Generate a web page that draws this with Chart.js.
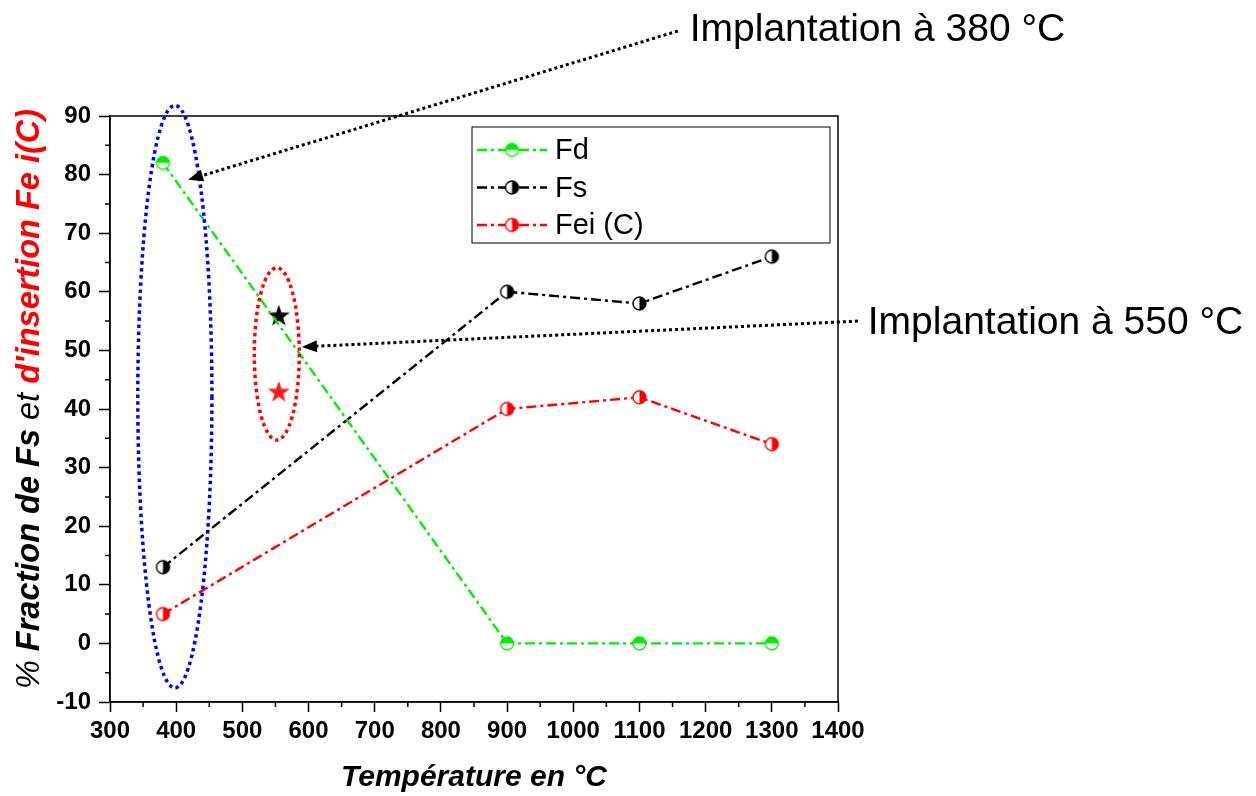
<!DOCTYPE html>
<html>
<head>
<meta charset="utf-8">
<script src="https://cdn.jsdelivr.net/npm/chart.js@4.4.1/dist/chart.umd.min.js"></script>
<style>
  html, body { margin:0; padding:0; background:#fff; }
  #wrap { width:1256px; height:796px; position:relative; }
</style>
</head>
<body>
<div id="wrap"><canvas id="chart"></canvas></div>
<script>
// ── data ────────────────────────────────────────────────────────────────────
const temperatures = [380, 900, 1100, 1300];
const fdValues  = [82, 0, 0, 0];
const fsValues  = [13, 60, 58, 66];
const feiValues = [5, 40, 42, 34];
const starTemp = [555];
const fsStar   = [56];
const feiStar  = [43];

const xTicks = { min:300, max:1400, step:100 };
const yTicks = { min:-10, max:90, step:10 };

const FONT = "'Liberation Sans', Arial, sans-serif";
const DASH = [10, 4, 3, 4];

// half-filled circle markers
function halfCircle(color, half) {
  const c = document.createElement('canvas');
  const r = 6.5, s = 17;
  c.width = s; c.height = s;
  const g = c.getContext('2d');
  const cx = s/2, cy = s/2;
  g.fillStyle = '#fff';
  g.beginPath(); g.arc(cx, cy, r, 0, Math.PI*2); g.fill();
  g.fillStyle = color;
  g.beginPath();
  if (half === 'top') g.arc(cx, cy, r, Math.PI, 0);
  else g.arc(cx, cy, r, -Math.PI/2, Math.PI/2);
  g.closePath(); g.fill();
  g.strokeStyle = color; g.lineWidth = 1.4;
  g.beginPath(); g.arc(cx, cy, r, 0, Math.PI*2); g.stroke();
  return c;
}

function starImg(color) {
  const c = document.createElement('canvas');
  const s = 26; c.width = s; c.height = s;
  const g = c.getContext('2d');
  const R = 11.5, r = 4.6;
  g.fillStyle = color;
  g.beginPath();
  for (let i = 0; i < 10; i++) {
    const a = -Math.PI/2 + i*Math.PI/5;
    const rr = i % 2 ? r : R;
    g.lineTo(s/2 + rr*Math.cos(a), s/2 + 1 + rr*Math.sin(a));
  }
  g.closePath(); g.fill();
  return c;
}

const toXY = (xs, ys) => xs.map((x, i) => ({ x, y: ys[i] }));

const series = [
  { label:'Fd',      color:'#00ee00', data: fdValues,  half:'top'   },
  { label:'Fs',      color:'#000000', data: fsValues,  half:'right' },
  { label:'Fei (C)', color:'#ff0000', data: feiValues, half:'right' },
];

const datasets = series.map(s => ({
  label: s.label,
  data: toXY(temperatures, s.data),
  borderColor: s.color,
  borderWidth: 2.4,
  borderDash: DASH,
  pointStyle: halfCircle(s.color, s.half),
  pointRadius: 7,
  tension: 0,
}));
datasets.push(
  { label:'star Fs',  data: toXY(starTemp, fsStar),  showLine:false, pointStyle: starImg('#000') },
  { label:'star Fei', data: toXY(starTemp, feiStar), showLine:false, pointStyle: starImg('#ff1a1a') }
);

// annotations (data coordinates)
const ellipses = [
  { cx:398, cy:42.1, rx:56, ry:49.7, color:'#0000ff' },
  { cx:552, cy:49.4, rx:34, ry:14.7, color:'#ff0000' },
];
const arrows = [
  { from:[1158, 104.5], to:[418, 79.1] },
  { from:[1430, 55.0],  to:[590, 50.6] },
];
const notes = [
  { text:'Implantation à 380 °C', x:1176, y:104.7 },
  { text:'Implantation à 550 °C', x:1445, y:54.6 },
];

const decor = {
  id: 'decor',
  beforeDatasetsDraw(chart) {
    const { ctx, chartArea: a } = chart;
    ctx.save();
    ctx.strokeStyle = '#000'; ctx.lineWidth = 1.5;
    ctx.strokeRect(a.left, a.top, a.right - a.left, a.bottom - a.top);
    // minor ticks
    const xs = chart.scales.x, ys = chart.scales.y;
    ctx.beginPath();
    for (let v = xTicks.min + xTicks.step/2; v < xTicks.max; v += xTicks.step) {
      const p = xs.getPixelForValue(v);
      ctx.moveTo(p, a.bottom); ctx.lineTo(p, a.bottom + 5);
    }
    for (let v = yTicks.min + yTicks.step/2; v < yTicks.max; v += yTicks.step) {
      const p = ys.getPixelForValue(v);
      ctx.moveTo(a.left, p); ctx.lineTo(a.left - 5, p);
    }
    ctx.stroke();
    ctx.restore();
  },
  afterDraw(chart) {
    const { ctx, chartArea: a } = chart;
    const xs = chart.scales.x, ys = chart.scales.y;
    ctx.save();
    // ellipses
    ctx.lineWidth = 3.5; ctx.setLineDash([3.5, 3.5]);
    ellipses.forEach(e => {
      const cx = xs.getPixelForValue(e.cx), cy = ys.getPixelForValue(e.cy);
      const rx = Math.abs(xs.getPixelForValue(e.cx + e.rx) - cx);
      const ry = Math.abs(ys.getPixelForValue(e.cy + e.ry) - cy);
      ctx.strokeStyle = e.color;
      ctx.beginPath(); ctx.ellipse(cx, cy, rx, ry, 0, 0, Math.PI*2); ctx.stroke();
    });
    // arrows
    arrows.forEach(ar => {
      const x1 = xs.getPixelForValue(ar.from[0]), y1 = ys.getPixelForValue(ar.from[1]);
      const x2 = xs.getPixelForValue(ar.to[0]),   y2 = ys.getPixelForValue(ar.to[1]);
      const ang = Math.atan2(y2 - y1, x2 - x1);
      const L = 15, W = 6;
      const bx = x2 - L*Math.cos(ang), by = y2 - L*Math.sin(ang);
      ctx.strokeStyle = '#000'; ctx.lineWidth = 3; ctx.setLineDash([3, 3]);
      ctx.beginPath(); ctx.moveTo(x1, y1); ctx.lineTo(bx, by); ctx.stroke();
      ctx.setLineDash([]);
      ctx.fillStyle = '#000';
      ctx.beginPath();
      ctx.moveTo(x2, y2);
      ctx.lineTo(bx + W*Math.sin(ang), by - W*Math.cos(ang));
      ctx.lineTo(bx - W*Math.sin(ang), by + W*Math.cos(ang));
      ctx.closePath(); ctx.fill();
    });
    // notes
    ctx.fillStyle = '#000'; ctx.font = `39px ${FONT}`;
    ctx.textAlign = 'left'; ctx.textBaseline = 'middle';
    notes.forEach(n => ctx.fillText(n.text, xs.getPixelForValue(n.x), ys.getPixelForValue(n.y)));

    // legend
    const lx = 472, ly = 127, lw = 358, lh = 116;
    ctx.strokeStyle = '#000'; ctx.lineWidth = 1; ctx.setLineDash([]);
    ctx.fillStyle = '#fff';
    ctx.fillRect(lx, ly, lw, lh); ctx.strokeRect(lx, ly, lw, lh);
    series.forEach((s, i) => {
      const y = ly + 23 + i*37.5;
      ctx.strokeStyle = s.color; ctx.lineWidth = 2.4; ctx.setLineDash(DASH);
      ctx.beginPath(); ctx.moveTo(lx + 5, y); ctx.lineTo(lx + 75, y); ctx.stroke();
      ctx.setLineDash([]);
      const img = chart.data.datasets[i].pointStyle;
      ctx.drawImage(img, lx + 40 - img.width/2, y - img.height/2);
      ctx.fillStyle = '#000'; ctx.font = `29px ${FONT}`;
      ctx.fillText(s.label, lx + 83, y + 1);
    });

    // y title, mixed styles
    const sz = 32.5;
    const parts = [
      { t:'% ',                  f:`italic ${sz}px ${FONT}`,      c:'#000' },
      { t:'Fraction de Fs',      f:`italic bold ${sz}px ${FONT}`, c:'#000' },
      { t:' et ',                f:`italic ${sz}px ${FONT}`,      c:'#000' },
      { t:"d'insertion Fe i(C)", f:`italic bold ${sz}px ${FONT}`, c:'#ff0000' },
    ];
    let total = 0;
    parts.forEach(p => { ctx.font = p.f; p.w = ctx.measureText(p.t).width; total += p.w; });
    ctx.translate(30, (a.top + a.bottom)/2 - 10);
    ctx.rotate(-Math.PI/2);
    let px = -total/2;
    parts.forEach(p => { ctx.font = p.f; ctx.fillStyle = p.c; ctx.fillText(p.t, px, 0); px += p.w; });
    ctx.restore();
  }
};

new Chart(document.getElementById('chart'), {
  type: 'line',
  data: { datasets },
  options: {
    responsive: true,
    maintainAspectRatio: false,
    animation: false,
    layout: { padding: { left: 0, top: 116, right: 418, bottom: 0 } },
    plugins: { legend: { display:false }, tooltip: { enabled:false } },
    scales: {
      x: {
        type: 'linear', min: xTicks.min, max: xTicks.max,
        afterFit: s => { s.height = 94; },
        ticks: { stepSize: xTicks.step, color:'#000', padding: 5, maxRotation: 0, autoSkip: false,
                 callback: v => String(v),
                 font: { family: FONT, size: 24, weight: 'bold' } },
        grid: { drawOnChartArea:false, tickLength: 10, color:'#000', tickWidth: 1.5 },
        border: { display:true, color:'#000', width:1.5 },
        title: { display:true, text:'Température en °C', color:'#000', padding:{ top:0, bottom:0 },
                 font: { family: FONT, size: 30, weight:'bold', style:'italic' } },
      },
      y: {
        type: 'linear', min: yTicks.min, max: yTicks.max,
        afterFit: s => { s.width = 110; },
        ticks: { stepSize: yTicks.step, color:'#000', padding: 8, callback: v => String(v),
                 font: { family: FONT, size: 24, weight: 'bold' } },
        grid: { drawOnChartArea:false, tickLength: 11, color:'#000', tickWidth: 1.5 },
        border: { display:true, color:'#000', width:1.5 },
      }
    }
  },
  plugins: [decor]
});
</script>
</body>
</html>
